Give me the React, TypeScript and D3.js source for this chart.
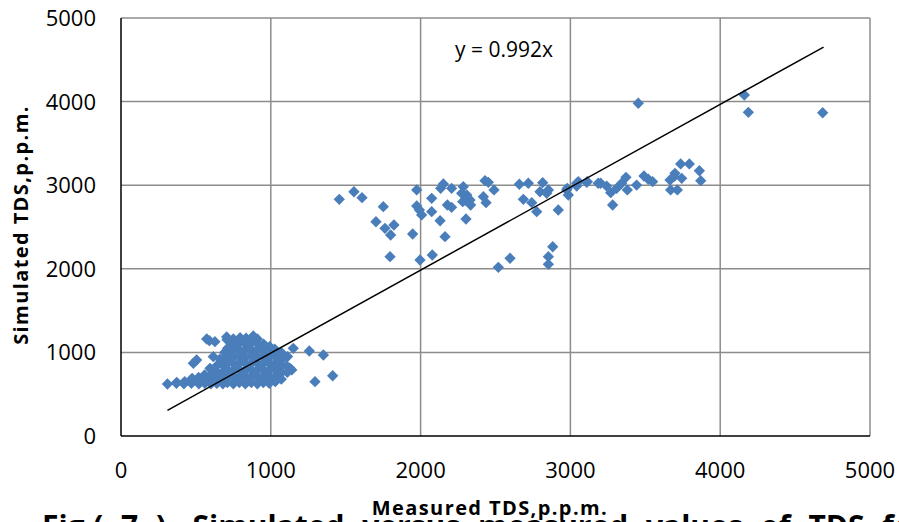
import * as d3 from 'd3'

const xTicks = [0, 1000, 2000, 3000, 4000, 5000]
const yTicks = [0, 1000, 2000, 3000, 4000, 5000]
const slope = 0.992
const fitRange = [310, 4690]

// measured / simulated TDS, low-salinity wells
const lowCluster: [number, number][] = [
  [310, 622], [370, 630], [372, 642], [420, 625], [425, 650],
  [470, 630], [468, 660], [475, 690], [520, 625], [522, 650], [518, 700],
  [560, 630], [562, 680], [558, 730], [600, 625], [602, 660], [598, 720], [605, 790],
  [640, 630], [642, 700], [638, 770], [645, 850], [660, 920],
  [680, 625], [682, 690], [678, 760], [684, 840], [688, 920], [692, 1000],
  [710, 640], [712, 720], [708, 800], [714, 880], [716, 960], [712, 1050], [708, 1150], [705, 1185],
  [750, 625], [752, 700], [748, 780], [754, 860], [750, 940], [748, 1020], [752, 1100], [750, 1160],
  [790, 640], [792, 720], [788, 800], [794, 880], [790, 960], [786, 1040], [792, 1120], [795, 1175],
  [830, 625], [832, 700], [828, 780], [834, 860], [830, 940], [826, 1020], [832, 1100], [835, 1170],
  [870, 640], [872, 720], [868, 800], [874, 880], [870, 960], [866, 1040], [872, 1120], [883, 1196],
  [910, 625], [912, 700], [908, 780], [914, 860], [910, 940], [906, 1020], [912, 1100], [910, 1160],
  [950, 640], [952, 720], [948, 800], [954, 880], [950, 960], [946, 1040], [952, 1100],
  [990, 630], [992, 700], [988, 780], [994, 860], [990, 940], [986, 1020], [992, 1070],
  [1030, 650], [1032, 720], [1028, 800], [1034, 880], [1030, 960], [1026, 1040],
  [1070, 680], [1072, 760], [1068, 840], [1074, 920], [1070, 1000],
  [1110, 760], [1105, 840], [1112, 950], [1128, 810], [1140, 790],
  [483, 870], [505, 909], [572, 1160], [590, 1140], [627, 1128], [616, 949], [594, 810],
  [1150, 1049], [1257, 1017], [1351, 969], [1295, 650], [1413, 721],
]

// measured / simulated TDS, high-salinity wells
const highCluster: [number, number][] = [
  [1457, 2831], [1555, 2922], [1609, 2851], [1751, 2743], [1702, 2563], [1762, 2484],
  [1822, 2524], [1800, 2404], [1796, 2145], [1947, 2416], [1974, 2943], [1974, 2751],
  [1992, 2703], [2007, 2644], [1996, 2105], [2074, 2843], [2074, 2683], [2130, 2575],
  [2163, 2384], [2078, 2165], [2152, 3014], [2134, 2963], [2207, 2963], [2179, 2763],
  [2207, 2735], [2285, 2982], [2274, 2903], [2308, 2883], [2296, 2823], [2330, 2823],
  [2281, 2803], [2334, 2763], [2303, 2596], [2430, 3054], [2452, 3034], [2490, 2943],
  [2419, 2863], [2437, 2791], [2519, 2018], [2597, 2126], [2659, 3011], [2719, 3023],
  [2686, 2831], [2742, 2791], [2775, 2683], [2815, 3030], [2797, 2922], [2853, 2943],
  [2842, 2903], [2919, 2703], [2882, 2264], [2853, 2145], [2853, 2054], [2975, 2943],
  [2986, 2883], [3042, 3023], [3109, 3034], [3186, 3023], [2979, 2963], [3053, 3042],
  [3042, 2990], [3113, 3042], [3202, 3023], [3242, 2990], [3269, 2911], [3282, 2763],
  [3309, 2963], [3342, 3023], [3371, 3094], [3380, 2943], [3442, 3002], [3491, 3110],
  [3520, 3071], [3549, 3042], [3665, 3062], [3669, 2943], [3698, 3142], [3714, 2943],
  [3743, 3082], [3736, 3254], [3794, 3254], [3861, 3173], [3870, 3054], [3692, 3102],
  [3453, 3980], [4161, 4079], [4188, 3872], [4684, 3867],
]

const W = 899
const H = 522
const font = "'Open Sans', sans-serif"

export default function App() {
  const x = d3.scaleLinear().domain([0, 5000]).range([121, 870])
  const y = d3.scaleLinear().domain([0, 5000]).range([436, 18])
  const diamond = d3.symbol(d3.symbolSquare, 64)() as string
  const fitLine = d3.line<number>().x(d => x(d)).y(d => y(d * slope))(fitRange) as string
  const points = [...lowCluster, ...highCluster]

  return (
    <div style={{ position: 'fixed', left: 0, top: 0 }}>
      <svg width={W} height={H} style={{ display: 'block', background: '#fff' }}>
        {xTicks.slice(1).map(t => (
          <line key={'gx' + t} x1={x(t)} x2={x(t)} y1={y(0)} y2={y(5000)} stroke="#8c8c8c" strokeWidth={1.5} />
        ))}
        {yTicks.slice(1).map(t => (
          <line key={'gy' + t} x1={x(0)} x2={x(5000)} y1={y(t)} y2={y(t)} stroke="#8c8c8c" strokeWidth={1.5} />
        ))}
        <line x1={x(0)} x2={x(0)} y1={y(0)} y2={y(5000)} stroke="#000" strokeWidth={1.5} />
        <line x1={x(0)} x2={x(5000)} y1={y(0)} y2={y(0)} stroke="#000" strokeWidth={1.5} />

        {points.map((p, i) => (
          <path key={i} d={diamond} transform={`translate(${x(p[0])},${y(p[1])}) rotate(45)`} fill="#4a7ebb" />
        ))}

        <path d={fitLine} fill="none" stroke="#000" strokeWidth={1.5} />

        {yTicks.map(t => (
          <text key={'ty' + t} x={96} y={y(t) + 8} textAnchor="end" fontFamily={font} fontSize={22} fill="#000">{t}</text>
        ))}
        {xTicks.map(t => (
          <text key={'tx' + t} x={x(t)} y={478} textAnchor="middle" fontFamily={font} fontSize={22} fill="#000">{t}</text>
        ))}

        <text x={455} y={57} fontFamily={font} fontSize={21} fill="#000">y = 0.992x</text>

        <text transform="translate(28,225) rotate(-90)" textAnchor="middle" fontFamily={font} fontSize={20} letterSpacing={1.4} fontWeight="bold" fill="#000">
          Simulated TDS,p.p.m.
        </text>
        <text x={490} y={515} textAnchor="middle" fontFamily={font} fontSize={20} letterSpacing={1.4} fontWeight="bold" fill="#000">
          Measured TDS,p.p.m.
        </text>
        <text x={42} y={537} fontFamily={font} fontSize={30} fontWeight="bold" wordSpacing={10} fill="#000">
          Fig.( 7 ). Simulated versus measured values of TDS for
        </text>
      </svg>
    </div>
  )
}
